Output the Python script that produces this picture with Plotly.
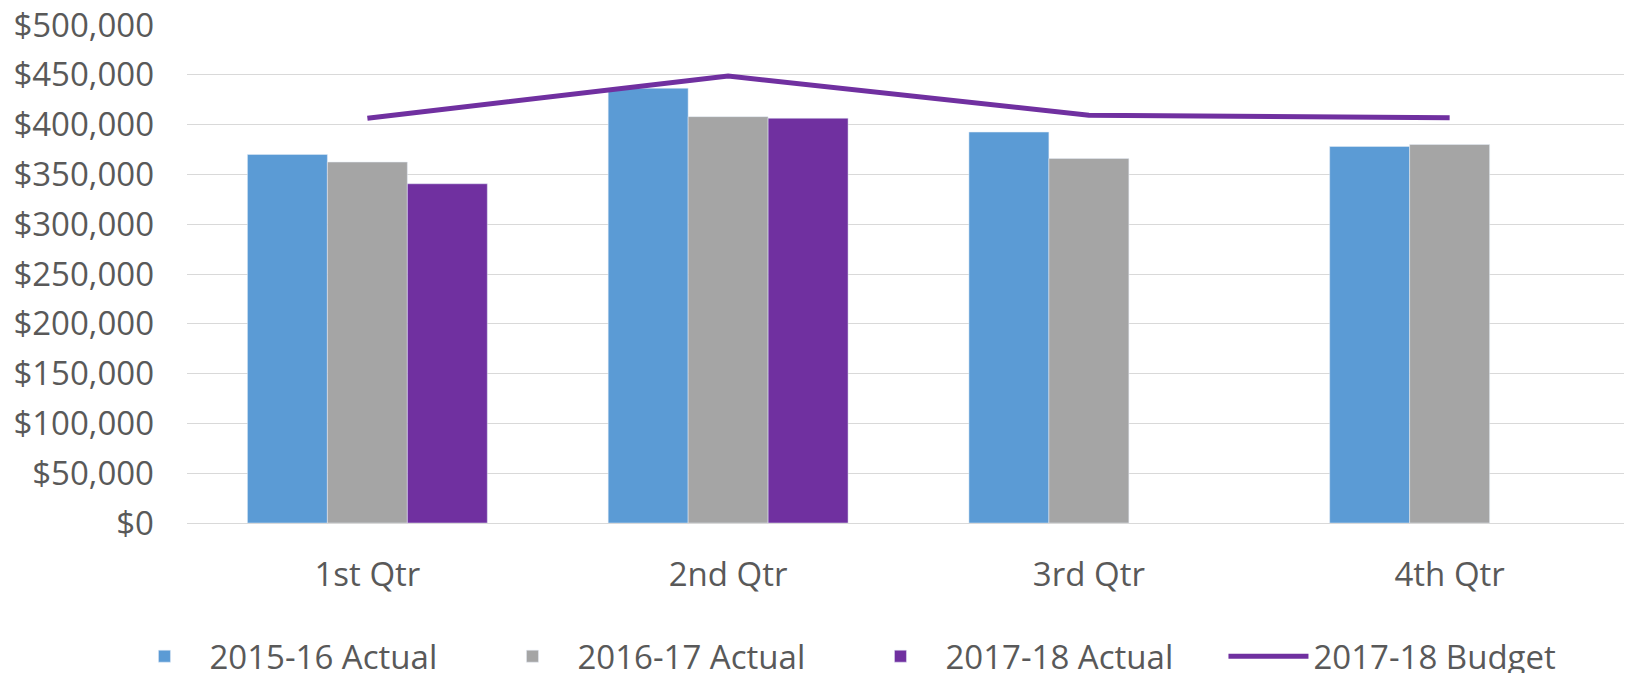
import plotly.graph_objects as go

quarters = ["1st Qtr", "2nd Qtr", "3rd Qtr", "4th Qtr"]
actual_2015_16 = [370000, 436500, 392500, 378000]
actual_2016_17 = [362400, 408000, 366000, 380000]
actual_2017_18 = [340600, 406400, None, None]
budget_2017_18 = [406400, 448700, 409500, 406800]

tick_vals = [0, 50000, 100000, 150000, 200000, 250000, 300000, 350000, 400000, 450000, 500000]
tick_text = ["$0", "$50,000", "$100,000", "$150,000", "$200,000", "$250,000",
             "$300,000", "$350,000", "$400,000", "$450,000", "$500,000"]

FONT = "Open Sans"
TXT = "#595959"
FS = 33

fig = go.Figure()
fig.add_trace(go.Bar(name="2015-16 Actual", x=quarters, y=actual_2015_16, marker_color="#5B9BD5"))
fig.add_trace(go.Bar(name="2016-17 Actual", x=quarters, y=actual_2016_17, marker_color="#A5A5A5"))
fig.add_trace(go.Bar(name="2017-18 Actual", x=quarters, y=actual_2017_18, marker_color="#7030A0"))
fig.add_trace(go.Scatter(name="2017-18 Budget", x=quarters, y=budget_2017_18, mode="lines",
                         line=dict(color="#7030A0", width=5)))

fig.update_layout(
    width=1632, height=673,
    margin=dict(l=179, r=10, t=16, b=158, autoexpand=False),
    paper_bgcolor="white", plot_bgcolor="white",
    barmode="group", bargap=0.335, bargroupgap=0,
    font=dict(family=FONT, size=FS, color=TXT),
    showlegend=True,
    legend=dict(orientation="h", x=-0.0468, xanchor="left",
                y=-0.267, yanchor="middle",
                entrywidth=273, entrywidthmode="pixels", itemwidth=80,
                font=dict(family=FONT, size=FS, color=TXT), traceorder="normal"),
    xaxis=dict(showgrid=False, showline=True, linecolor="#D9D9D9", linewidth=1,
               ticks="", tickfont=dict(size=FS, color=TXT), ticklabelstandoff=22,
               ticklabeloverflow="allow"),
    yaxis=dict(range=[0, 501000], tickvals=tick_vals, ticktext=tick_text,
               showgrid=True, gridcolor="#D9D9D9", gridwidth=1, zeroline=False,
               showline=False, ticks="", tickfont=dict(size=FS, color=TXT),
               ticklabelstandoff=32, ticklabeloverflow="allow"),
)

fig.write_html("out.html")
